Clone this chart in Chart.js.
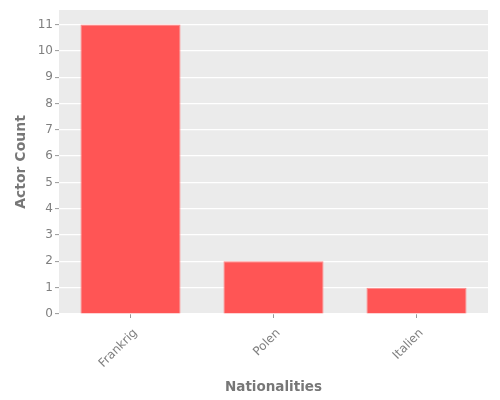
<!DOCTYPE html>
<html>
<head>
<meta charset="utf-8">
<script src="https://cdn.jsdelivr.net/npm/chart.js@4/dist/chart.umd.min.js"></script>
<style>
html,body{margin:0;padding:0;background:#fff;}
#wrap{width:500px;height:400px;}
</style>
</head>
<body>
<div id="wrap"><canvas id="c" width="500" height="400"></canvas></div>
<script>
const categories = ["Frankrig", "Polen", "Italien"];
const actorCounts = [11, 2, 1];
const yTicks = [0,1,2,3,4,5,6,7,8,9,10,11];

const panelBg = {
  id: 'panelBg',
  beforeDraw(chart) {
    const {ctx, chartArea: a} = chart;
    ctx.save();
    ctx.fillStyle = '#EBEBEB';
    ctx.fillRect(a.left, a.top, a.right - a.left, a.bottom - a.top);
    ctx.restore();
  }
};

new Chart(document.getElementById('c'), {
  type: 'bar',
  data: {
    labels: categories,
    datasets: [{
      data: actorCounts,
      backgroundColor: '#FF5555',
      borderColor: '#FF8A8A',
      borderWidth: 1,
      barPercentage: 0.7,
      categoryPercentage: 1.0
    }]
  },
  plugins: [panelBg],
  options: {
    responsive: false,
    animation: false,
    devicePixelRatio: 1,
    layout: { padding: { top: 10, right: 12, left: 0, bottom: 0 } },
    plugins: { legend: { display: false }, tooltip: { enabled: false } },
    scales: {
      x: {
        offset: true,
        grid: { offset: false, drawOnChartArea: false, tickLength: 4, tickColor: '#999', tickWidth: 1 },
        border: { display: false },
        ticks: {
          minRotation: 45, maxRotation: 45, padding: 8, labelOffset: 5,
          color: '#7F7F7F',
          font: { family: 'DejaVu Sans', size: 12 }
        },
        title: {
          display: true, text: 'Nationalities', color: '#777',
          font: { family: 'DejaVu Sans', size: 13.5, weight: 'bold' },
          padding: { top: 0, bottom: 4 }
        },
        afterFit(axis) { axis.height = 86; }
      },
      y: {
        min: 0, max: 11.55,
        grid: { color: '#FFFFFF', lineWidth: 1.2, tickLength: 4, tickColor: '#999', tickWidth: 1 },
        border: { display: false },
        afterBuildTicks(axis) {
          axis.ticks = yTicks.map(v => ({ value: v }));
        },
        ticks: {
          padding: 2, color: '#7F7F7F',
          font: { family: 'DejaVu Sans', size: 12 }
        },
        title: {
          display: true, text: 'Actor Count', color: '#777',
          font: { family: 'DejaVu Sans', size: 14, weight: 'bold' },
          padding: { top: 13, bottom: 0 }
        },
        afterFit(axis) { axis.width = 59; }
      }
    }
  }
});
</script>
</body>
</html>
